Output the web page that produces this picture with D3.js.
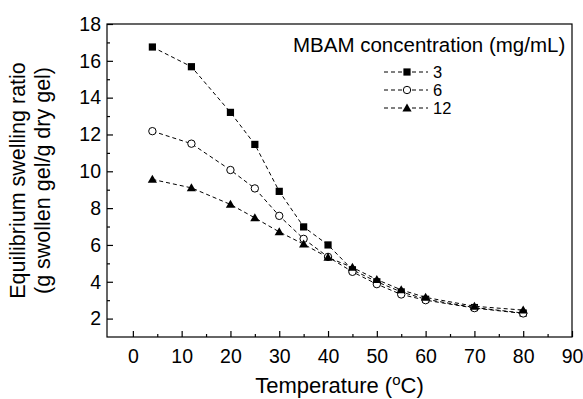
<!DOCTYPE html>
<html><head><meta charset="utf-8">
<script src="https://cdn.jsdelivr.net/npm/d3@7"></script>
<style>body{margin:0;background:#fff}svg{display:block}text{font-family:"Liberation Sans",Arial,Helvetica,sans-serif;fill:#000}</style>
</head><body>
<svg id="c" width="583" height="399"></svg>
<script>
const temps = [4,12,20,25,30,35,40,45,50,55,60,70,80];
const s3  = [16.75,15.68,13.2,11.46,8.91,6.98,6.0,4.65,4.0,3.45,3.05,2.6,2.3];
const s6  = [12.18,11.5,10.07,9.07,7.58,6.33,5.35,4.54,3.87,3.31,3.0,2.57,2.28];
const s12 = [9.56,9.1,8.2,7.47,6.71,6.04,5.32,4.78,4.12,3.56,3.15,2.67,2.46];
const seriesNames = ["3","6","12"];
const xTicks = [0,10,20,30,40,50,60,70,80,90];
const yTicks = [2,4,6,8,10,12,14,16,18];
const xMinor = [5,15,25,35,45,55,65,75,85];
const yMinor = [3,5,7,9,11,13,15,17];
const xTitle = "Temperature (";
const yTitle1 = "Equilibrium swelling ratio";
const yTitle2 = "(g swollen gel/g dry gel)";
const legendTitle = "MBAM concentration (mg/mL)";

const svg = d3.select("#c");
const L=107, R=572, T=24, B=337;
const x = d3.scaleLinear().domain([-5.3,90]).range([L,R]);
const y = d3.scaleLinear().domain([1,18]).range([B,T]);

// frame
svg.append("rect").attr("x",L).attr("y",T).attr("width",R-L).attr("height",B-T)
  .attr("fill","none").attr("stroke","#000").attr("stroke-width",1.2);

// axes (inward ticks)
const xa = svg.append("g").attr("transform",`translate(0,${B})`)
  .call(d3.axisBottom(x).tickValues(xTicks).tickSize(-6).tickPadding(12).tickFormat(d3.format("d")));
const xm = svg.append("g").attr("transform",`translate(0,${B})`)
  .call(d3.axisBottom(x).tickValues(xMinor).tickSize(-3).tickFormat(""));
const ya = svg.append("g").attr("transform",`translate(${L},0)`)
  .call(d3.axisLeft(y).tickValues(yTicks).tickSize(-6).tickPadding(6).tickFormat(d3.format("d")));
const ym = svg.append("g").attr("transform",`translate(${L},0)`)
  .call(d3.axisLeft(y).tickValues(yMinor).tickSize(-3).tickFormat(""));
[xa,xm,ya,ym].forEach(g=>{g.select(".domain").remove();g.selectAll("line").attr("stroke","#000").attr("stroke-width",1.2);});
[xa,ya].forEach(g=>g.selectAll("text").attr("font-size",19.5).attr("font-family","Liberation Sans, Arial, sans-serif"));

// titles
const xt = svg.append("text").attr("x",(L+R)/2).attr("y",392.5).attr("text-anchor","middle").attr("font-size",22);
xt.append("tspan").text(xTitle);
xt.append("tspan").attr("baseline-shift","super").attr("font-size",15).text("o");
xt.append("tspan").text("C)");
svg.append("text").attr("transform",`translate(25,${(T+B)/2}) rotate(-90)`).attr("text-anchor","middle").attr("font-size",21.5).text(yTitle1);
svg.append("text").attr("transform",`translate(50,${(T+B)/2}) rotate(-90)`).attr("text-anchor","middle").attr("font-size",21.5).text(yTitle2);

// series
const series = [
  {name:seriesNames[0], vals:s3, shape:"square"},
  {name:seriesNames[1], vals:s6, shape:"circle"},
  {name:seriesNames[2], vals:s12, shape:"triangle"}
];
const line = d3.line().x(d=>x(d[0])).y(d=>y(d[1]));
function marker(g, shape, cx, cy){
  if(shape==="square") g.append("rect").attr("x",cx-3.6).attr("y",cy-3.6).attr("width",7.2).attr("height",7.2).attr("fill","#000");
  else if(shape==="circle") g.append("circle").attr("cx",cx).attr("cy",cy).attr("r",3.7).attr("fill","#fff").attr("stroke","#000").attr("stroke-width",1);
  else g.append("path").attr("d",`M${cx},${cy-4.6}L${cx+4.6},${cy+3.4}L${cx-4.6},${cy+3.4}Z`).attr("fill","#000");
}
series.forEach(s=>{
  svg.append("path").datum(temps.map((t,i)=>[t,s.vals[i]])).attr("d",line)
    .attr("fill","none").attr("stroke","#000").attr("stroke-width",1).attr("stroke-dasharray","4,3");
});
series.forEach(s=>{
  const g = svg.append("g");
  temps.forEach((t,i)=>marker(g,s.shape,x(t),y(s.vals[i])));
});

// legend
svg.append("text").attr("x",293).attr("y",52).attr("font-size",20.5).text(legendTitle);
series.forEach((s,i)=>{
  const ly = 72 + i*18;
  const g = svg.append("g");
  g.append("line").attr("x1",384).attr("x2",428).attr("y1",ly).attr("y2",ly)
    .attr("stroke","#000").attr("stroke-width",1).attr("stroke-dasharray","4,3");
  marker(g,s.shape,407,ly);
  g.append("text").attr("x",433).attr("y",ly+6).attr("font-size",16.5).text(s.name);
});
</script>
</body></html>
